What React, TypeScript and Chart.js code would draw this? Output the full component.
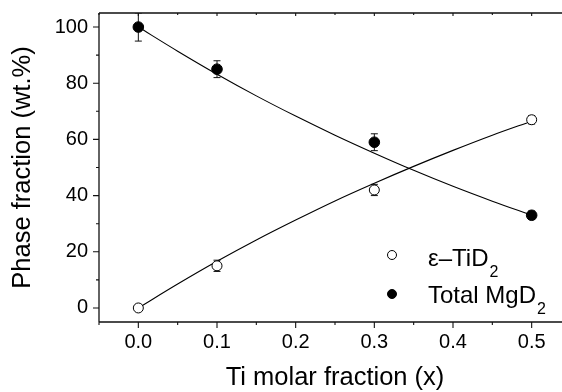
import React, { useEffect, useRef } from "react";
import { Chart, registerables } from "chart.js";

Chart.register(...registerables);

// Measured points
const xValues = [0, 0.1, 0.3, 0.5];
const mgD2 = [100, 85, 59, 33];
const mgD2Err = [5, 3, 3, 1.5];
const tiD2 = [0, 15, 42, 67];
const tiD2Err = [0, 2, 2, 1.5];

// Fitted guide curves
const fitX = [0, 0.05, 0.1, 0.15, 0.2, 0.25, 0.3, 0.35, 0.4, 0.45, 0.5];
const mgD2Fit = [100, 91.4, 83.2, 75.5, 68.3, 61.5, 55.1, 49.0, 43.3, 38.0, 33.0];
const tiD2Fit = [0, 8.5, 16.6, 24.2, 31.3, 38.1, 44.4, 50.4, 56.1, 61.5, 66.5];

// Axis ticks
const xMajorTicks = [0, 0.1, 0.2, 0.3, 0.4, 0.5];
const xMinorTicks = [-0.05, 0.05, 0.15, 0.25, 0.35, 0.45, 0.55];
const yMajorTicks = [0, 20, 40, 60, 80, 100];
const yMinorTicks = [10, 30, 50, 70, 90];

const legendLabels = [
  { main: "\u03b5\u2013TiD", sub: "2", filled: false },
  { main: "Total MgD", sub: "2", filled: true },
];

const FONT = "'Liberation Sans', Arial, Helvetica, sans-serif";

const toPts = (xs: number[], ys: number[]) => xs.map((x, i) => ({ x, y: ys[i] }));

const decor = {
  id: "decor",
  beforeDatasetsDraw(chart: any) {
    const { ctx, chartArea } = chart;
    const xs = chart.scales.x;
    const ys = chart.scales.y;
    ctx.save();
    ctx.beginPath();
    ctx.rect(chartArea.left, chartArea.top, chartArea.right - chartArea.left, chartArea.bottom - chartArea.top);
    ctx.clip();
    ctx.strokeStyle = "#111";
    ctx.lineWidth = 1;
    const series = [
      { v: mgD2, e: mgD2Err },
      { v: tiD2, e: tiD2Err },
    ];
    series.forEach((s) => {
      xValues.forEach((xv, i) => {
        const err = s.e[i];
        if (!err) return;
        const px = xs.getPixelForValue(xv);
        const yt = ys.getPixelForValue(s.v[i] + err);
        const yb = ys.getPixelForValue(s.v[i] - err);
        ctx.beginPath();
        ctx.moveTo(px, yt);
        ctx.lineTo(px, yb);
        ctx.moveTo(px - 3.5, yt);
        ctx.lineTo(px + 3.5, yt);
        ctx.moveTo(px - 3.5, yb);
        ctx.lineTo(px + 3.5, yb);
        ctx.stroke();
      });
    });
    ctx.restore();
  },
  afterDraw(chart: any) {
    const { ctx, chartArea } = chart;
    const xs = chart.scales.x;
    const ys = chart.scales.y;
    const { left, right, top, bottom } = chartArea;
    ctx.save();
    ctx.strokeStyle = "#111";
    ctx.lineWidth = 1.3;
    ctx.beginPath();
    ctx.moveTo(left, top);
    ctx.lineTo(left, bottom);
    ctx.moveTo(left, bottom);
    ctx.lineTo(right, bottom);
    ctx.moveTo(left, top);
    ctx.lineTo(right, top);
    ctx.stroke();

    ctx.lineWidth = 1.1;
    ctx.beginPath();
    yMajorTicks.forEach((v) => {
      const p = ys.getPixelForValue(v);
      ctx.moveTo(left, p);
      ctx.lineTo(left - 6, p);
    });
    yMinorTicks.forEach((v) => {
      const p = ys.getPixelForValue(v);
      ctx.moveTo(left, p);
      ctx.lineTo(left - 3, p);
    });
    xMajorTicks.forEach((v) => {
      const p = xs.getPixelForValue(v);
      ctx.moveTo(p, bottom);
      ctx.lineTo(p, bottom + 6);
      ctx.moveTo(p, top);
      ctx.lineTo(p, top + 3);
    });
    xMinorTicks.forEach((v) => {
      const p = xs.getPixelForValue(v);
      ctx.moveTo(p, bottom);
      ctx.lineTo(p, bottom + 3);
      ctx.moveTo(p, top);
      ctx.lineTo(p, top + 2);
    });
    ctx.stroke();

    // Legend
    const markerX = 392;
    const rows = [
      { cy: 255, base: 266 },
      { cy: 294, base: 303 },
    ];
    legendLabels.forEach((item, i) => {
      const r = rows[i];
      ctx.beginPath();
      ctx.arc(markerX, r.cy, 4.5, 0, Math.PI * 2);
      ctx.lineWidth = 1;
      ctx.strokeStyle = "#000";
      ctx.fillStyle = item.filled ? "#000" : "#fff";
      ctx.fill();
      ctx.stroke();
      ctx.fillStyle = "#000";
      ctx.textAlign = "left";
      ctx.textBaseline = "alphabetic";
      ctx.font = `24px ${FONT}`;
      const tx = 428;
      ctx.fillText(item.main, tx, r.base);
      const w = ctx.measureText(item.main).width;
      ctx.font = `16px ${FONT}`;
      ctx.fillText(item.sub, tx + w + 1, r.base + 11);
    });
    ctx.restore();
  },
};

export default function App() {
  const canvasRef = useRef<HTMLCanvasElement | null>(null);

  useEffect(() => {
    if (!canvasRef.current) return;
    const chart = new Chart(canvasRef.current, {
      type: "scatter",
      data: {
        datasets: [
          {
            label: "\u03b5-TiD2",
            data: toPts(xValues, tiD2),
            pointRadius: 5,
            pointBorderWidth: 1,
            pointBackgroundColor: "#fff",
            pointBorderColor: "#000",
            showLine: false,
            order: 0,
          },
          {
            label: "Total MgD2",
            data: toPts(xValues, mgD2),
            pointRadius: 5.3,
            pointBorderWidth: 1,
            pointBackgroundColor: "#000",
            pointBorderColor: "#000",
            showLine: false,
            order: 0,
          },
          {
            label: "TiD2 fit",
            data: toPts(fitX, tiD2Fit),
            showLine: true,
            pointRadius: 0,
            borderColor: "#000",
            borderWidth: 1.1,
            cubicInterpolationMode: "monotone",
            order: 1,
          },
          {
            label: "MgD2 fit",
            data: toPts(fitX, mgD2Fit),
            showLine: true,
            pointRadius: 0,
            borderColor: "#000",
            borderWidth: 1.1,
            cubicInterpolationMode: "monotone",
            order: 1,
          },
        ],
      },
      options: {
        animation: false,
        responsive: false,
        devicePixelRatio: 1,
        layout: { padding: { left: 0, right: 9, top: 13, bottom: 0 } },
        plugins: {
          legend: { display: false },
          tooltip: { enabled: false },
        },
        scales: {
          x: {
            type: "linear",
            min: -0.05,
            max: 0.55,
            grid: { display: false, drawTicks: false },
            border: { display: false },
            afterBuildTicks: (s: any) => {
              s.ticks = xMajorTicks.map((v) => ({ value: v }));
            },
            afterFit: (s: any) => {
              s.height = 70;
              s.paddingLeft = 0;
              s.paddingRight = 0;
            },
            ticks: {
              padding: 8,
              color: "#000",
              font: { family: FONT, size: 20 },
              maxRotation: 0,
              callback: (v: any) => Number(v).toFixed(1),
            },
            title: {
              display: true,
              text: "Ti molar fraction (x)",
              color: "#000",
              font: { family: FONT, size: 25.5, lineHeight: 1 },
              padding: { top: 0, bottom: 1 },
            },
          },
          y: {
            type: "linear",
            min: -5,
            max: 105,
            grid: { display: false, drawTicks: false },
            border: { display: false },
            afterBuildTicks: (s: any) => {
              s.ticks = yMajorTicks.map((v) => ({ value: v }));
            },
            afterFit: (s: any) => {
              s.width = 99;
              s.paddingTop = 0;
              s.paddingBottom = 0;
            },
            ticks: {
              padding: 11,
              color: "#000",
              font: { family: FONT, size: 20 },
              callback: (v: any) => String(v),
            },
            title: {
              display: true,
              text: "Phase fraction (wt.%)",
              color: "#000",
              font: { family: FONT, size: 25.5, lineHeight: 1 },
              padding: { top: 10, bottom: 0 },
            },
          },
        },
      },
      plugins: [decor],
    } as any);
    return () => chart.destroy();
  }, []);

  return (
    <div
      style={{
        position: "fixed",
        left: 0,
        top: 0,
        width: 562,
        height: 392,
        overflow: "hidden",
        background: "#fff",
      }}
    >
      <canvas ref={canvasRef} width={580} height={392} style={{ display: "block" }} />
    </div>
  );
}
